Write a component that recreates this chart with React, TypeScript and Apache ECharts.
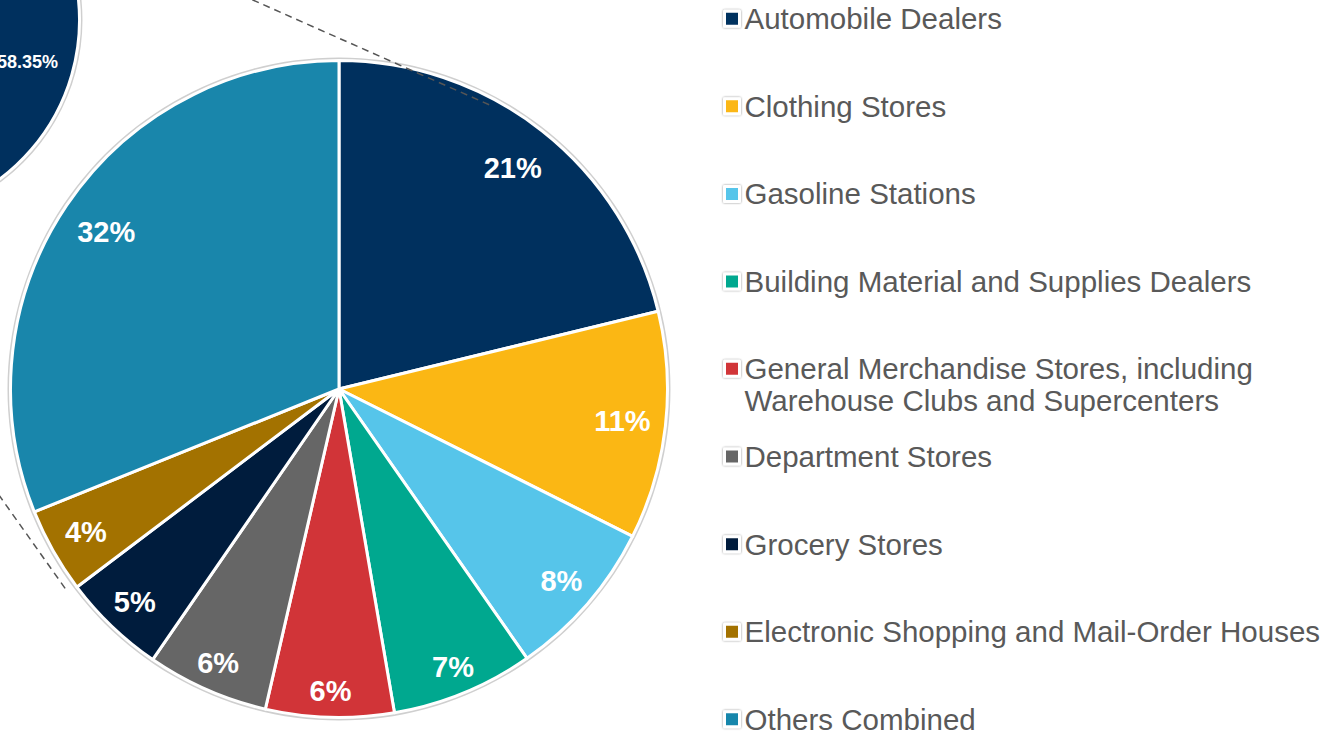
import React, { useEffect, useRef } from "react";
import * as echarts from "echarts";

// ---- data ----
const categories = [
  "Automobile Dealers",
  "Clothing Stores",
  "Gasoline Stations",
  "Building Material and Supplies Dealers",
  "General Merchandise Stores, including Warehouse Clubs and Supercenters",
  "Department Stores",
  "Grocery Stores",
  "Electronic Shopping and Mail-Order Houses",
  "Others Combined",
];
const legendTexts = [
  "Automobile Dealers",
  "Clothing Stores",
  "Gasoline Stations",
  "Building Material and Supplies Dealers",
  "General Merchandise Stores, including\nWarehouse Clubs and Supercenters",
  "Department Stores",
  "Grocery Stores",
  "Electronic Shopping and Mail-Order Houses",
  "Others Combined",
];
const shares = [21.2, 11.2, 7.9, 7.0, 6.3, 6.0, 5.1, 4.2, 31.1];
const shareLabels = ["21%", "11%", "8%", "7%", "6%", "6%", "5%", "4%", "32%"];
const colors = [
  "#00305E",
  "#FBB714",
  "#56C5EA",
  "#00A88F",
  "#D13438",
  "#666666",
  "#001C3D",
  "#A37200",
  "#1986AB",
];
const detailNames = ["Share A", "Share B"];
const detailValues = [58.35, 41.65];
const detailColors = ["#00305E", "#7F9BB5"];

// ---- layout ----
const FONT = "'Liberation Sans', Arial, Helvetica, sans-serif";
const MAIN_CENTER = [339, 389];
const MAIN_R = 328.5;
const SMALL_CENTER = [-119, 20];
const SMALL_R = 198.5;
const LEGEND_LEFT = 723;
const LEGEND_FIRST = 16.8;
const LEGEND_STEP = 87.56;
const LINE_H = 32;
const SINGLE_H = 26;
// label distance from centre, varying with direction (inside-end style placement)
const LBL_A = 284;
const LBL_B = -10;
const LBL_C = 8;

export default function App() {
  const ref = useRef<HTMLDivElement>(null);

  useEffect(() => {
    document.body.style.margin = "0";
    document.body.style.overflow = "hidden";
    if (!ref.current) return;
    const chart = echarts.init(ref.current, undefined, { renderer: "svg" });

    const total = shares.reduce((s, v) => s + v, 0);
    const midAngles: number[] = [];
    let acc = 0;
    shares.forEach((v) => {
      midAngles.push(((acc + v / 2) / total) * Math.PI * 2);
      acc += v;
    });

    const legends = categories.map((name, i) => {
      const multi = legendTexts[i].indexOf("\n") > -1;
      const c = LEGEND_FIRST + LEGEND_STEP * i;
      return {
        orient: "vertical",
        left: LEGEND_LEFT,
        top: multi ? c + 1.7 - LINE_H * 1.5 : c - SINGLE_H / 2,
        padding: 0,
        selectedMode: false,
        icon: "rect",
        itemWidth: 15,
        itemHeight: 15,
        itemStyle: {
          borderColor: "#ffffff",
          borderWidth: 3,
          shadowBlur: 2,
          shadowColor: "rgba(0,0,0,0.45)",
        },
        data: [name],
        formatter: () => (multi ? "\n" + legendTexts[i] : legendTexts[i]),
        textStyle: {
          fontSize: 29.5,
          color: "#595959",
          fontFamily: FONT,
          lineHeight: multi ? LINE_H : SINGLE_H,
        },
      };
    });

    const option: any = {
      animation: false,
      backgroundColor: "#ffffff",
      legend: legends,
      series: [
        // faint outer outline of the main pie
        {
          type: "pie",
          center: MAIN_CENTER,
          radius: MAIN_R + 3,
          silent: true,
          z: 1,
          label: { show: false },
          labelLine: { show: false },
          itemStyle: { color: "#cfcfcf", borderWidth: 0 },
          emphasis: { disabled: true },
          data: [{ name: "outline-main", value: 1 }],
        },
        {
          type: "pie",
          name: "Retail",
          center: MAIN_CENTER,
          radius: MAIN_R,
          startAngle: 90,
          clockwise: true,
          z: 2,
          silent: true,
          avoidLabelOverlap: false,
          label: {
            show: true,
            position: "inside",
            formatter: (p: any) => shareLabels[p.dataIndex],
            color: "#ffffff",
            fontSize: 29,
            fontWeight: "bold",
            fontFamily: FONT,
          },
          labelLayout: (p: any) => {
            const t = midAngles[p.dataIndex];
            const cs = Math.cos(t);
            const r = LBL_A + LBL_B * cs + LBL_C * cs * cs;
            return {
              x: MAIN_CENTER[0] + r * Math.sin(t),
              y: MAIN_CENTER[1] - r * cs,
              align: "center",
              verticalAlign: "middle",
            };
          },
          labelLine: { show: false },
          itemStyle: { borderColor: "#ffffff", borderWidth: 3 },
          emphasis: { disabled: true },
          data: categories.map((name, i) => ({
            name,
            value: shares[i],
            itemStyle: { color: colors[i] },
          })),
        },
        // secondary pie (cropped)
        {
          type: "pie",
          center: SMALL_CENTER,
          radius: SMALL_R + 3,
          silent: true,
          z: 1,
          label: { show: false },
          labelLine: { show: false },
          itemStyle: { color: "#cfcfcf", borderWidth: 0 },
          emphasis: { disabled: true },
          data: [{ name: "outline-small", value: 1 }],
        },
        {
          type: "pie",
          center: SMALL_CENTER,
          radius: SMALL_R,
          startAngle: 89,
          clockwise: true,
          z: 2,
          silent: true,
          label: { show: false },
          labelLine: { show: false },
          itemStyle: { borderColor: "#ffffff", borderWidth: 3 },
          emphasis: { disabled: true },
          data: detailValues.map((v, i) => ({
            name: detailNames[i],
            value: v,
            itemStyle: { color: detailColors[i] },
          })),
        },
        {
          type: "pie",
          center: SMALL_CENTER,
          radius: [106, 193],
          startAngle: 89,
          clockwise: true,
          z: 4,
          silent: true,
          avoidLabelOverlap: false,
          itemStyle: { color: "rgba(0,0,0,0)", borderWidth: 0 },
          emphasis: { disabled: true },
          labelLine: { show: false },
          label: {
            show: true,
            position: "inside",
            formatter: (p: any) => (p.dataIndex === 0 ? detailValues[0].toFixed(2) + "%" : ""),
            color: "#ffffff",
            fontSize: 18,
            fontWeight: "bold",
            fontFamily: FONT,
          },
          data: detailValues.map((v, i) => ({ name: "dlbl" + i, value: v })),
        },
      ],
      graphic: [
        {
          type: "line",
          z: 100,
          silent: true,
          shape: { x1: 0, y1: -112, x2: 492, y2: 106 },
          style: { stroke: "#555555", lineWidth: 1.5, lineDash: [7, 5] },
        },
        {
          type: "line",
          z: 100,
          silent: true,
          shape: { x1: -50, y1: 426, x2: 67, y2: 591 },
          style: { stroke: "#555555", lineWidth: 1.5, lineDash: [7, 5] },
        },
      ],
    };

    chart.setOption(option);
    return () => chart.dispose();
  }, []);

  return <div ref={ref} style={{ width: 1324, height: 732 }} />;
}
